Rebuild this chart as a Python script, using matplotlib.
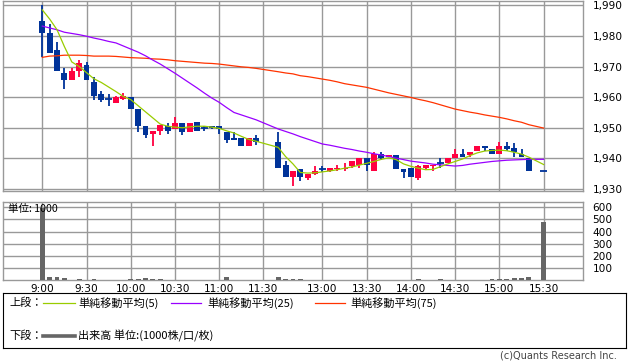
import numpy as np
import matplotlib
matplotlib.use("Agg")
import matplotlib.pyplot as plt

plt.rcParams['font.family'] = ['DejaVu Sans', 'Noto Sans CJK JP']
jp = ['Noto Sans CJK JP', 'DejaVu Sans']

# 5分足 (9:00-11:25, 12:30-15:20, 15:30)
times = ["9:%02d" % m for m in range(0, 60, 5)] + ["10:%02d" % m for m in range(0, 60, 5)] + \
        ["11:%02d" % m for m in range(0, 30, 5)] + ["12:30", "12:35", "12:40", "12:45", "12:50", "12:55"] + \
        ["13:%02d" % m for m in range(0, 60, 5)] + ["14:%02d" % m for m in range(0, 60, 5)] + \
        ["15:%02d" % m for m in range(0, 25, 5)] + ["15:30"]

opens = [1985, 1981, 1975.5, 1968, 1965.5, 1968.5, 1970.5, 1965, 1961, 1959.5,
         1958, 1959.5, 1960, 1956, 1950.5, 1948, 1949, 1950.5, 1949.5, 1951.5,
         1948.5, 1952, 1950, 1950.5, 1950.5, 1948.5, 1946.5, 1946.5, 1944, 1946.5,
         1945.5, 1938, 1934, 1936.5, 1933.5, 1935, 1936.5, 1936, 1936.5, 1936.5,
         1937.5, 1938, 1940, 1936, 1941.5, 1940.5, 1941, 1936.5, 1937, 1933.5,
         1937, 1937.5, 1938.5, 1938.5, 1940, 1941.5, 1941, 1942.5, 1944, 1943,
         1941.5, 1944, 1943.5, 1941.5, 1940, 1936]
highs = [1990, 1984, 1978, 1969.5, 1969.5, 1972, 1971.5, 1966.5, 1962, 1961,
         1960.5, 1961.5, 1960, 1956, 1950.5, 1949, 1951, 1951.5, 1953.5, 1951.5,
         1951.5, 1952, 1950.5, 1950.5, 1950.5, 1948.5, 1948.5, 1946.5, 1946.5, 1947.5,
         1948.5, 1939, 1936, 1936.5, 1935, 1937.5, 1937.5, 1937, 1938, 1938.5,
         1939, 1940, 1940, 1942, 1942, 1941, 1941, 1936.5, 1937, 1938,
         1938, 1938, 1940, 1940, 1943, 1943, 1942, 1944, 1944, 1943,
         1945.5, 1945.5, 1945, 1943, 1940, 1936]
lows = [1973, 1974.5, 1968.5, 1962.5, 1965.5, 1966.5, 1965.5, 1959, 1958.5, 1957,
        1958, 1959, 1956, 1948.5, 1946.5, 1944, 1947.5, 1948, 1949.5, 1947.5,
        1948.5, 1949, 1949, 1949.5, 1948, 1945, 1946, 1944, 1944, 1944.5,
        1937, 1934, 1931, 1932.5, 1933, 1934.5, 1935.5, 1935.5, 1936, 1936,
        1937, 1937, 1936, 1936, 1939.5, 1940.5, 1936.5, 1933.5, 1934, 1933,
        1936.5, 1936, 1937, 1938.5, 1940, 1940.5, 1940.5, 1942.5, 1942.5, 1941.5,
        1941.5, 1942.5, 1940.5, 1940.5, 1936, 1936]
closes = [1981, 1974.5, 1968.5, 1965.5, 1968.5, 1971, 1965.5, 1960.5, 1959, 1959.5,
          1960, 1960.5, 1956, 1950.5, 1947.5, 1949, 1951, 1949, 1951.5, 1948.5,
          1951.5, 1949, 1950, 1950, 1949.5, 1946, 1946, 1944, 1946.5, 1945.5,
          1937, 1934, 1936, 1934, 1935, 1936, 1936.5, 1937, 1937, 1937,
          1939, 1940, 1938, 1941.5, 1940, 1941, 1936.5, 1935.5, 1934, 1937.5,
          1938, 1938, 1938.5, 1940, 1941.5, 1940.5, 1942, 1944, 1943.5, 1941.5,
          1944, 1943, 1942, 1940.5, 1936, 1936]

ma5 = [1988.5, 1985.5, 1982, 1976.5, 1971.5, 1970, 1968, 1966, 1964.8, 1963.3,
       1961.8, 1960.2, 1959.2, 1957.2, 1955.2, 1953.2, 1951.2, 1950.5, 1950.2, 1950,
       1950.3, 1950.5, 1950.5, 1950.2, 1949.8, 1949, 1948.3, 1947.2, 1946.2, 1945.6,
       1943.6, 1940.6, 1938.2, 1935.4, 1935.2, 1935.3, 1935.6, 1935.9, 1936.3, 1936.8,
       1937.2, 1937.8, 1938.4, 1939, 1939.7, 1940.2, 1939.6, 1938.2, 1937.4, 1936.8,
       1936.3, 1936.4, 1937.3, 1938.2, 1939, 1939.8, 1940.9, 1941.8, 1942.4, 1942.6,
       1942.7, 1942.5, 1942, 1941.4, 1940.4, 1938]
ma25 = [1983.2, 1982.6, 1982, 1981.2, 1980.8, 1980.4, 1979.9, 1979.3, 1978.8, 1978.2,
        1977.7, 1976.7, 1975.7, 1974.7, 1973.5, 1972.1, 1970.8, 1969.3, 1967.8, 1966.2,
        1964.6, 1963, 1961.3, 1959.7, 1958.3, 1956.6, 1955, 1954.2, 1953.4, 1952.6,
        1949.6, 1948.8, 1948, 1947.1, 1946.3, 1945.5, 1944.7, 1944.3, 1943.8, 1943.3,
        1942.9, 1942.4, 1942, 1941.5, 1941.1, 1940.6, 1940.1, 1939.6, 1939.1, 1938.8,
        1938.5, 1938.1, 1937.9, 1937.7, 1937.5, 1937.7, 1938.1, 1938.4, 1938.7, 1939,
        1939.2, 1939.4, 1939.5, 1939.6, 1939.7, 1939.7]
ma75 = [1973, 1973.4, 1973.5, 1973.7, 1973.7, 1973.7, 1973.6, 1973.4, 1973.4, 1973.4,
        1973.3, 1973.1, 1972.9, 1972.8, 1972.7, 1972.5, 1972.4, 1972.2, 1971.9, 1971.7,
        1971.5, 1971.3, 1971.1, 1971, 1970.8, 1970.5, 1970.2, 1969.9, 1969.7, 1969.4,
        1968.3, 1967.9, 1967.6, 1967, 1966.7, 1966.3, 1965.9, 1965.5, 1965, 1964.4,
        1964, 1963.6, 1963.2, 1962.6, 1962, 1961.4, 1960.9, 1960.4, 1959.9, 1959.3,
        1958.8, 1958.2, 1957.5, 1956.8, 1956.1, 1955.6, 1955.1, 1954.7, 1954.2, 1953.8,
        1953.4, 1952.9, 1952.3, 1951.8, 1951, 1949.9]

# 出来高 (単位:1000)
volume = [590, 30, 30, 19, 2, 10, 2, 10, 2, 2,
          2, 2, 10, 10, 22, 10, 10, 2, 2, 2,
          2, 2, 2, 2, 2, 24, 2, 2, 2, 2,
          24, 10, 10, 10, 2, 2, 2, 2, 2, 2,
          2, 2, 2, 2, 2, 2, 2, 2, 2, 11,
          2, 2, 11, 2, 2, 2, 2, 2, 2, 11,
          11, 11, 19, 19, 27, 480]

tick_times = ["9:00", "9:30", "10:00", "10:30", "11:00", "11:30",
              "13:00", "13:30", "14:00", "14:30", "15:00", "15:30"]
price_ticks = [1930, 1940, 1950, 1960, 1970, 1980, 1990]
vol_ticks = [100, 200, 300, 400, 500, 600]


def slot(t):
    h, m = map(int, t.split(":"))
    mins = (h - 9) * 60 + m
    if mins >= 210:
        mins -= 50   # 昼休み
    return mins / 5


x = np.array([slot(t) for t in times])
o = np.array(opens)
c = np.array(closes)
col = np.where(c > o, '#ff0040', '#003399')

W, H = 638, 362
fig = plt.figure(figsize=(W / 100, H / 100), dpi=100)
x0, x1 = 3, 582.7
ax = fig.add_axes([x0 / W, 1 - 191 / H, (x1 - x0) / W, 190 / H])
ax2 = fig.add_axes([x0 / W, 1 - 280.3 / H, (x1 - x0) / W, 78 / H])

gc = '#999999'
xt = [slot(t) for t in tick_times]
for a in (ax, ax2):
    a.set_xlim(-5.33, 73.3)
    for s in a.spines.values():
        s.set_color(gc)
        s.set_linewidth(1.0)
    a.set_axisbelow(True)
    a.grid(True, color=gc, linewidth=1.0)
    a.yaxis.tick_right()
    a.tick_params(axis='both', length=0, labelsize=7.6, colors='black')
    a.set_xticks(xt)

# 上段: ローソク足
ax.set_ylim(1929.35, 1991.4)
ax.set_yticks(price_ticks)
ax.set_yticklabels(["{:,}".format(v) for v in price_ticks])
ax.tick_params(axis='y', pad=7)
ax.set_xticklabels([])

ax.vlines(x, lows, highs, colors=col, linewidth=1.3, zorder=3)
body_lo = np.minimum(o, c)
body_h = np.abs(c - o)
ax.bar(x, body_h, bottom=body_lo, width=0.8, color=col, linewidth=0, zorder=4)
doji = body_h == 0
ax.hlines(o[doji], x[doji] - 0.45, x[doji] + 0.45, colors=col[doji], linewidth=1.3, zorder=4)

ax.plot(x, ma75, color='#ff3300', linewidth=0.9, zorder=5)
ax.plot(x, ma25, color='#9900ff', linewidth=0.9, zorder=5)
ax.plot(x, ma5, color='#99cc00', linewidth=0.9, zorder=6)

# 下段: 出来高
ax2.set_ylim(0, 640)
ax2.set_yticks(vol_ticks)
ax2.tick_params(axis='y', pad=7)
ax2.set_xticklabels(tick_times)
ax2.tick_params(axis='x', pad=2.5)
ax2.bar(x, volume, width=0.65, color='#666666', linewidth=0, zorder=3)
ax2.text(0.009, 0.914, "単位: 1000", transform=ax2.transAxes, fontsize=7.6,
         family=jp, va='center', ha='left', zorder=5)

# 凡例
lg = fig.add_axes([3 / W, 1 - 348 / H, 623 / W, 55 / H])
lg.set_xlim(0, 623)
lg.set_ylim(55, 0)
lg.set_xticks([])
lg.set_yticks([])
for s in lg.spines.values():
    s.set_color('black')
    s.set_linewidth(0.8)

fs = 8
lg.text(6, 10, "上段：", fontsize=fs, family=jp, va='center')
lg.plot([40, 72], [10, 10], color='#99cc00', linewidth=0.9)
lg.text(75, 10, "単純移動平均(5)", fontsize=fs, family=jp, va='center')
lg.plot([168, 198], [10, 10], color='#9900ff', linewidth=0.9)
lg.text(204, 10, "単純移動平均(25)", fontsize=fs, family=jp, va='center')
lg.plot([312, 342], [10, 10], color='#ff3300', linewidth=0.9)
lg.text(347, 10, "単純移動平均(75)", fontsize=fs, family=jp, va='center')
lg.text(6, 43, "下段：", fontsize=fs, family=jp, va='center')
lg.plot([40, 72], [43, 43], color='#666666', linewidth=2.6)
lg.text(75, 43, "出来高 単位:(1000株/口/枚)", fontsize=fs, family=jp, va='center')

fig.text(617 / W, 1 - 356 / H, "(c)Quants Research Inc.", fontsize=7,
         color='#444444', ha='right', va='center')

fig.savefig("out.png", dpi=100)
